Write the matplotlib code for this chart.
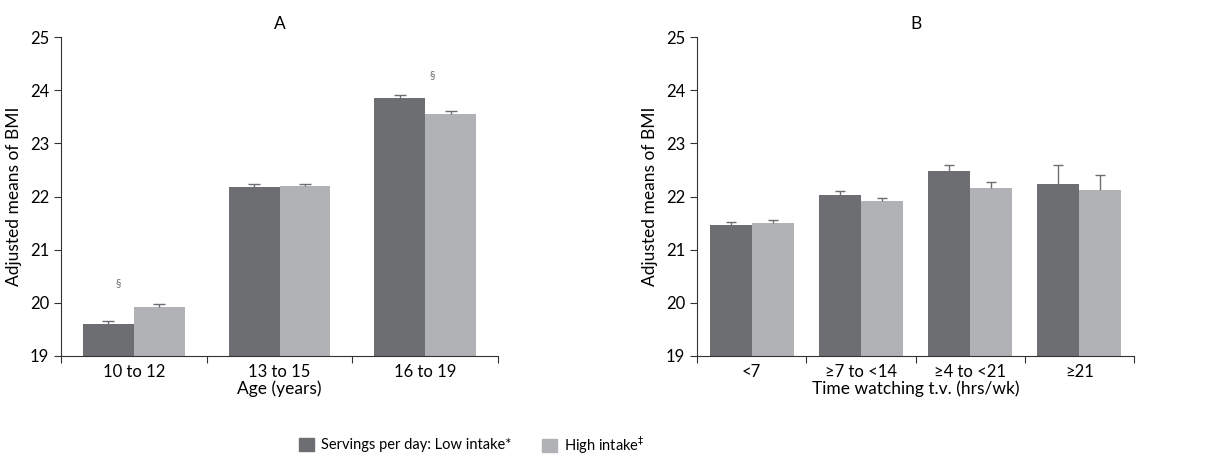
import numpy as np
import matplotlib

matplotlib.use("Agg")
import matplotlib.pyplot as plt
from matplotlib.patches import Patch

plt.rcParams["font.family"] = ["Lato", "DejaVu Sans"]

# panel A: age groups
age_labels = ["10 to 12", "13 to 15", "16 to 19"]
age_low = [19.60, 22.18, 23.85]
age_high = [19.92, 22.20, 23.56]
age_low_err = [0.06, 0.05, 0.05]
age_high_err = [0.06, 0.03, 0.04]

# panel B: time watching tv
tv_labels = ["<7", "\u22657 to <14", "\u22654 to <21", "\u226521"]
tv_low = [21.46, 22.03, 22.48, 22.23]
tv_high = [21.50, 21.91, 22.16, 22.12]
tv_low_err = [0.06, 0.08, 0.12, 0.37]
tv_high_err = [0.05, 0.06, 0.11, 0.29]

DARK = "#6d6e71"
LIGHT = "#b1b2b5"
TICK_FS = 12
LABEL_FS = 12.5


def upper_err(ax, x, y, err, cap_ms):
    # one-sided error bars: stem from bar top plus a cap, no lower cap
    y = np.asarray(y)
    top = y + np.asarray(err)
    ax.vlines(x, y, top, color=DARK, lw=1.0, zorder=3)
    ax.plot(x, top, ls="none", marker="_", ms=cap_ms, mew=1.0, color=DARK, zorder=3)


def draw_panel(ax, labels, low, high, low_err, high_err, width, cap_ms, title, xlabel):
    x = np.arange(len(labels))
    ax.bar(x - width / 2, low, width, color=DARK)
    ax.bar(x + width / 2, high, width, color=LIGHT)
    upper_err(ax, x - width / 2, low, low_err, cap_ms)
    upper_err(ax, x + width / 2, high, high_err, cap_ms)
    ax.set_ylim(19, 25)
    ax.set_xlim(-0.5, len(labels) - 0.5)
    ax.set_yticks(range(19, 26))
    # ticks sit at category boundaries, labels at centres
    ax.set_xticks(np.arange(len(labels) + 1) - 0.5)
    ax.set_xticklabels([])
    ax.set_xticks(x, minor=True)
    ax.set_xticklabels(labels, minor=True, fontsize=TICK_FS)
    ax.tick_params(axis="x", which="minor", length=0, pad=6)
    ax.tick_params(axis="x", which="major", length=5, direction="out", color="#333333")
    ax.tick_params(axis="y", length=5, direction="out", labelsize=TICK_FS, color="#333333")
    ax.spines[["top", "right"]].set_visible(False)
    for s in ("left", "bottom"):
        ax.spines[s].set_color("#333333")
        ax.spines[s].set_linewidth(0.8)
    ax.set_ylabel("Adjusted means of BMI", fontsize=LABEL_FS, labelpad=6)
    ax.set_xlabel(xlabel, fontsize=LABEL_FS, labelpad=0)
    ax.set_title(title, fontsize=LABEL_FS, pad=6)


fig = plt.figure(figsize=(12.24, 4.55), dpi=100)
axA = fig.add_axes([61 / 1224, 1 - 356 / 455, 437 / 1224, 319 / 455])
axB = fig.add_axes([697 / 1224, 1 - 356 / 455, 437 / 1224, 319 / 455])

draw_panel(axA, age_labels, age_low, age_high, age_low_err, age_high_err,
           0.35, 9, "A", "Age (years)")
draw_panel(axB, tv_labels, tv_low, tv_high, tv_low_err, tv_high_err,
           0.385, 7, "B", "Time watching t.v. (hrs/wk)")

# significance markers
axA.text(-0.11, 20.39, "\u00a7", ha="center", va="center", fontsize=8, color=DARK)
axA.text(2.05, 24.30, "\u00a7", ha="center", va="center", fontsize=8, color=DARK)

leg_kw = dict(loc="center left", frameon=False, fontsize=10.5, handlelength=1.0,
              handleheight=1.0, handletextpad=0.5, borderpad=0, borderaxespad=0)
fig.legend(handles=[Patch(color=DARK, label="Servings per day: Low intake*")],
           bbox_to_anchor=(299 / 1224, 0.022), **leg_kw)
fig.legend(handles=[Patch(color=LIGHT, label="High intake$^{\\ddag}$")],
           bbox_to_anchor=(542 / 1224, 0.022), **leg_kw)

fig.savefig("out.png", dpi=100)
